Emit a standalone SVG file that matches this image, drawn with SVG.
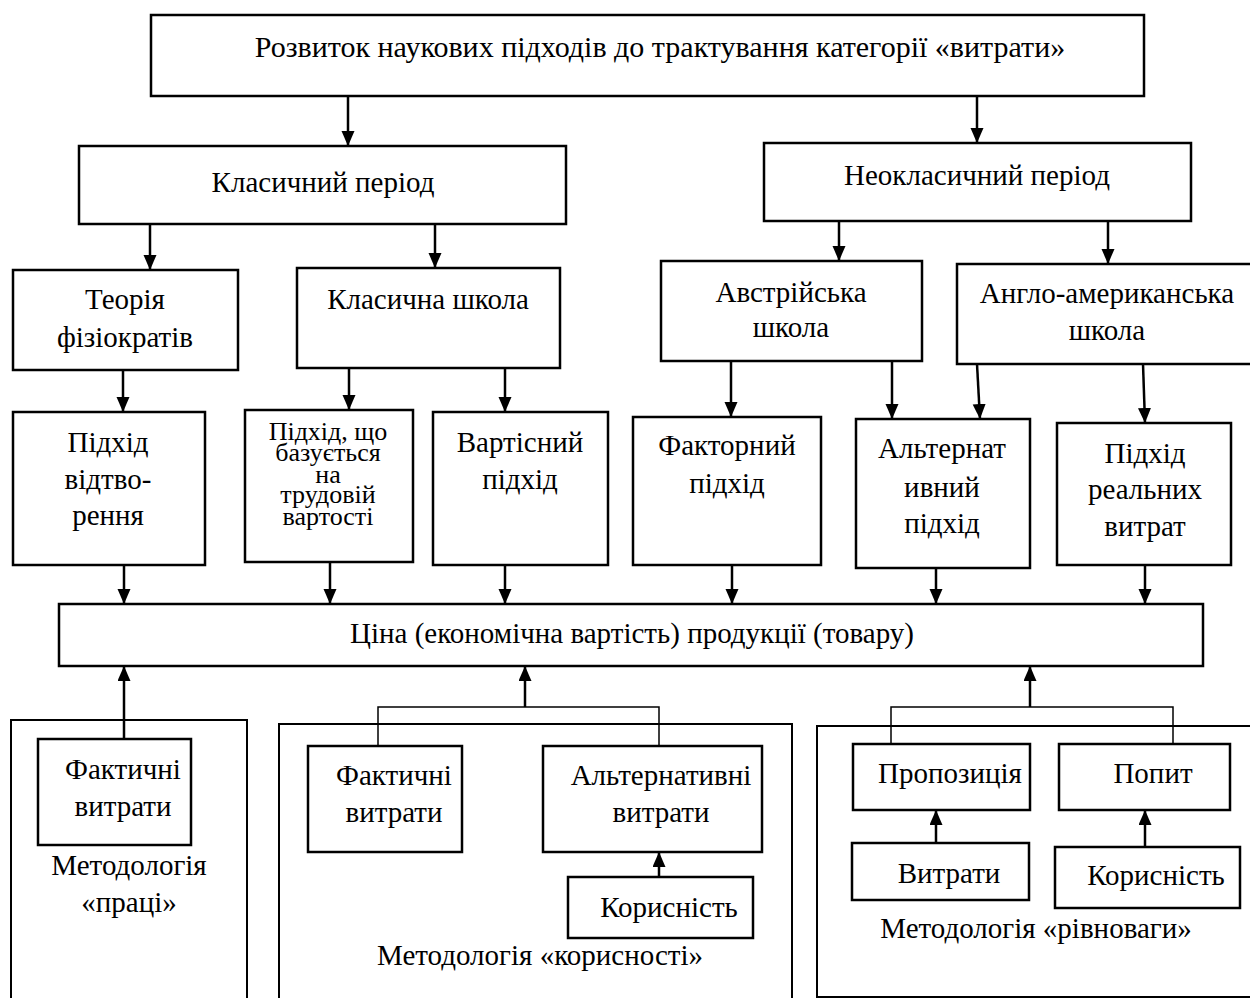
<svg xmlns="http://www.w3.org/2000/svg" width="1250" height="998" viewBox="0 0 1250 998">
<defs>
<marker id="ah" markerUnits="userSpaceOnUse" markerWidth="16" markerHeight="14" refX="15" refY="6.5" orient="auto">
<path d="M0,0 L15,6.5 L0,13 Z" fill="#000"/>
</marker>
<style>
.b{fill:#fff;stroke:#000;stroke-width:2.5}
.o{fill:none;stroke:#000;stroke-width:2}
.t{font-family:"Liberation Serif","Times New Roman",serif;font-size:29px;fill:#000;text-anchor:middle}
.s{font-size:26px}
.h{font-size:30px}
.a{fill:none;stroke:#000;stroke-width:2.5;marker-end:url(#ah)}
.c{fill:none;stroke:#000;stroke-width:1.5}
</style>
</defs>
<rect width="1250" height="998" fill="#fff"/>

<g id="outer-boxes">
<rect class="o" x="11" y="720" width="236" height="290"/>
<rect class="o" x="279" y="724" width="513" height="290"/>
<rect class="o" x="817" y="726" width="440" height="271"/>
</g>

<g id="connectors">
<line class="a" x1="348" y1="96" x2="348" y2="146"/>
<line class="a" x1="977" y1="96" x2="977" y2="143"/>
<line class="a" x1="150" y1="224" x2="150" y2="270"/>
<line class="a" x1="435" y1="224" x2="435" y2="268"/>
<line class="a" x1="839" y1="221" x2="839" y2="261"/>
<line class="a" x1="1108" y1="221" x2="1108" y2="264"/>
<line class="a" x1="123" y1="370" x2="123" y2="412"/>
<line class="a" x1="349" y1="368" x2="349" y2="410"/>
<line class="a" x1="505" y1="368" x2="505" y2="412"/>
<line class="a" x1="731" y1="361" x2="731" y2="417"/>
<line class="a" x1="892" y1="361" x2="892" y2="419"/>
<line class="a" x1="977" y1="364" x2="980" y2="419"/>
<line class="a" x1="1143" y1="364" x2="1145" y2="423"/>
<line class="a" x1="124" y1="565" x2="124" y2="604"/>
<line class="a" x1="330" y1="562" x2="330" y2="604"/>
<line class="a" x1="505" y1="565" x2="505" y2="604"/>
<line class="a" x1="732" y1="565" x2="732" y2="604"/>
<line class="a" x1="936" y1="568" x2="936" y2="604"/>
<line class="a" x1="1145" y1="565" x2="1145" y2="604"/>
<line class="a" x1="124" y1="739" x2="124" y2="666"/>
<polyline class="c" points="378,746 378,707 659,707 659,746"/>
<line class="a" x1="525" y1="707" x2="525" y2="666"/>
<polyline class="c" points="891,744 891,707 1173,707 1173,744"/>
<line class="a" x1="1030" y1="707" x2="1030" y2="666"/>
<line class="a" x1="659" y1="877" x2="659" y2="852"/>
<line class="a" x1="936" y1="843" x2="936" y2="810"/>
<line class="a" x1="1145" y1="847" x2="1145" y2="810"/>
</g>

<g id="n-root"><rect class="b" x="151" y="15" width="993" height="81"/>
<text class="t h" x="660" y="57">Розвиток наукових підходів до трактування категорії «витрати»</text></g>

<g id="n-classic"><rect class="b" x="79" y="146" width="487" height="78"/>
<text class="t" x="323" y="192">Класичний період</text></g>

<g id="n-neoclassic"><rect class="b" x="764" y="143" width="427" height="78"/>
<text class="t" x="977" y="185">Неокласичний період</text></g>

<g id="n-physio"><rect class="b" x="13" y="270" width="225" height="100"/>
<text class="t" x="125" y="309">Теорія</text>
<text class="t" x="125" y="347">фізіократів</text></g>

<g id="n-classic-school"><rect class="b" x="297" y="268" width="263" height="100"/>
<text class="t" x="428" y="309">Класична школа</text></g>

<g id="n-austrian"><rect class="b" x="661" y="261" width="261" height="100"/>
<text class="t" x="791" y="302">Австрійська</text>
<text class="t" x="791" y="337">школа</text></g>

<g id="n-anglo"><rect class="b" x="957" y="264" width="300" height="100"/>
<text class="t" x="1107" y="303">Англо-американська</text>
<text class="t" x="1107" y="340">школа</text></g>

<g id="n-reprod"><rect class="b" x="13" y="412" width="192" height="153"/>
<text class="t" x="108" y="452">Підхід</text>
<text class="t" x="108" y="489">відтво-</text>
<text class="t" x="108" y="525">рення</text></g>

<g id="n-labour"><rect class="b" x="245" y="410" width="168" height="152"/>
<text class="t s" x="328" y="440">Підхід, що</text>
<text class="t s" x="328" y="461">базується</text>
<text class="t s" x="328" y="483">на</text>
<text class="t s" x="328" y="503">трудовій</text>
<text class="t s" x="328" y="525">вартості</text></g>

<g id="n-value"><rect class="b" x="433" y="412" width="175" height="153"/>
<text class="t" x="520" y="452">Вартісний</text>
<text class="t" x="520" y="489">підхід</text></g>

<g id="n-factor"><rect class="b" x="633" y="417" width="188" height="148"/>
<text class="t" x="727" y="455">Факторний</text>
<text class="t" x="727" y="493">підхід</text></g>

<g id="n-altern"><rect class="b" x="856" y="419" width="174" height="149"/>
<text class="t" x="942" y="458">Альтернат</text>
<text class="t" x="942" y="497">ивний</text>
<text class="t" x="942" y="533">підхід</text></g>

<g id="n-real"><rect class="b" x="1057" y="423" width="174" height="142"/>
<text class="t" x="1145" y="463">Підхід</text>
<text class="t" x="1145" y="499">реальних</text>
<text class="t" x="1145" y="536">витрат</text></g>

<g id="n-price"><rect class="b" x="59" y="604" width="1144" height="62"/>
<text class="t" x="632" y="643">Ціна (економічна вартість) продукції (товару)</text></g>

<g id="n-labour-method">
<rect class="b" x="38" y="739" width="153" height="106"/>
<text class="t" x="123" y="779">Фактичні</text>
<text class="t" x="123" y="816">витрати</text>
<text class="t" x="129" y="875">Методологія</text>
<text class="t" x="129" y="912">«праці»</text>
</g>

<g id="n-utility-method">
<rect class="b" x="308" y="746" width="154" height="106"/>
<text class="t" x="394" y="785">Фактичні</text>
<text class="t" x="394" y="822">витрати</text>
<rect class="b" x="543" y="746" width="219" height="106"/>
<text class="t" x="661" y="785">Альтернативні</text>
<text class="t" x="661" y="822">витрати</text>
<rect class="b" x="568" y="877" width="185" height="61"/>
<text class="t" x="669" y="917">Корисність</text>
<text class="t" x="540" y="965">Методологія «корисності»</text>
</g>

<g id="n-equilibrium-method">
<rect class="b" x="853" y="744" width="177" height="66"/>
<text class="t" x="950" y="783">Пропозиція</text>
<rect class="b" x="1059" y="744" width="171" height="66"/>
<text class="t" x="1153" y="783">Попит</text>
<rect class="b" x="852" y="843" width="177" height="57"/>
<text class="t" x="949" y="883">Витрати</text>
<rect class="b" x="1055" y="847" width="185" height="61"/>
<text class="t" x="1156" y="885">Корисність</text>
<text class="t" x="1036" y="938">Методологія «рівноваги»</text>
</g>
</svg>
